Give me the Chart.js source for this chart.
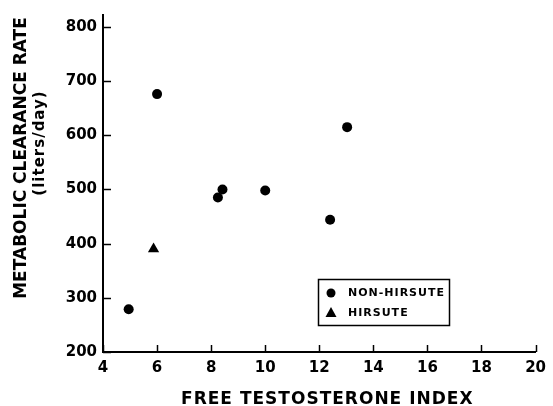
<!DOCTYPE html>
<html lang="en">
<head>
<meta charset="UTF-8">
<title>Metabolic clearance rate vs free testosterone index</title>
<script src="https://cdn.jsdelivr.net/npm/chart.js"></script>
<style>
  html, body { margin: 0; padding: 0; background: #fff; }
  #wrap { width: 553px; height: 406px; }
</style>
</head>
<body>
<div id="wrap"><canvas id="mcrChart" width="553" height="406"></canvas></div>
<script>
// values
const nonHirsuteFTI = [4.95, 6.0, 8.25, 8.42, 10.0, 12.4, 13.03];
const nonHirsuteMCR = [279, 676, 485, 500, 498, 444, 615];
const hirsuteFTI = [5.87];
const hirsuteMCR = [390];

const xTicks = [4, 6, 8, 10, 12, 14, 16, 18, 20];
const yTicks = [200, 300, 400, 500, 600, 700, 800];

const seriesNames = ['NON-HIRSUTE', 'HIRSUTE'];
const xTitle = 'FREE TESTOSTERONE INDEX';
const yTitle = 'METABOLIC CLEARANCE RATE';
const yUnits = '(liters/day)';

const FONT = '"DejaVu Sans", sans-serif';

// tick marks drawn inside the axes
const inwardTicks = {
    id: 'inwardTicks',
    afterDraw(chart) {
        const { ctx, chartArea, scales } = chart;
        ctx.save();
        ctx.strokeStyle = '#000';
        ctx.lineWidth = 1.5;
        xTicks.forEach(v => {
            const px = Math.round(scales.x.getPixelForValue(v)) + 0.5;
            ctx.beginPath();
            ctx.moveTo(px, chartArea.bottom);
            ctx.lineTo(px, chartArea.bottom - 7);
            ctx.stroke();
        });
        yTicks.forEach(v => {
            const py = Math.round(scales.y.getPixelForValue(v)) + 0.5;
            ctx.beginPath();
            ctx.moveTo(chartArea.left, py);
            ctx.lineTo(chartArea.left + 8, py);
            ctx.stroke();
        });
        ctx.restore();
    }
};

// axis titles
const axisTitles = {
    id: 'axisTitles',
    afterDraw(chart) {
        const { ctx, chartArea } = chart;
        ctx.save();
        ctx.fillStyle = '#000';
        ctx.textAlign = 'center';
        ctx.textBaseline = 'alphabetic';

        ctx.font = 'bold 17px ' + FONT;
        ctx.letterSpacing = '1px';
        ctx.fillText(xTitle, (chartArea.left + chartArea.right) / 2 + 8, 404);

        ctx.letterSpacing = '0px';
        ctx.translate(26, 158);
        ctx.rotate(-Math.PI / 2);
        ctx.fillText(yTitle, 0, 0);
        ctx.restore();

        ctx.save();
        ctx.fillStyle = '#000';
        ctx.textAlign = 'center';
        ctx.font = 'bold 15px ' + FONT;
        ctx.letterSpacing = '1px';
        ctx.translate(44, 143);
        ctx.rotate(-Math.PI / 2);
        ctx.fillText(yUnits, 0, 0);
        ctx.restore();
    }
};

// boxed legend inside the plot
const boxLegend = {
    id: 'boxLegend',
    afterDraw(chart) {
        const { ctx } = chart;
        ctx.save();
        ctx.strokeStyle = '#000';
        ctx.lineWidth = 1.5;
        ctx.strokeRect(318.5, 279.5, 131, 46);

        ctx.fillStyle = '#000';
        ctx.beginPath();
        ctx.arc(331, 293, 4.5, 0, Math.PI * 2);
        ctx.fill();

        ctx.beginPath();
        ctx.moveTo(331, 307);
        ctx.lineTo(336.5, 317);
        ctx.lineTo(325.5, 317);
        ctx.closePath();
        ctx.fill();

        ctx.font = 'bold 11px ' + FONT;
        ctx.letterSpacing = '1px';
        ctx.textAlign = 'left';
        ctx.textBaseline = 'middle';
        ctx.fillText(seriesNames[0], 348, 293);
        ctx.fillText(seriesNames[1], 348, 313);
        ctx.restore();
    }
};

const ctx = document.getElementById('mcrChart').getContext('2d');
const mcrChart = new Chart(ctx, {
    type: 'scatter',
    data: {
        datasets: [
            {
                label: seriesNames[0],
                data: nonHirsuteFTI.map((v, i) => ({ x: v, y: nonHirsuteMCR[i] })),
                pointStyle: 'circle',
                pointRadius: 5,
                backgroundColor: '#000',
                borderColor: '#000',
                borderWidth: 0
            },
            {
                label: seriesNames[1],
                data: hirsuteFTI.map((v, i) => ({ x: v, y: hirsuteMCR[i] })),
                pointStyle: 'triangle',
                pointRadius: 6.5,
                backgroundColor: '#000',
                borderColor: '#000',
                borderWidth: 0
            }
        ]
    },
    options: {
        responsive: false,
        animation: false,
        layout: { padding: { top: 13, right: 14, left: 0, bottom: 0 } },
        plugins: {
            legend: { display: false },
            tooltip: { enabled: false }
        },
        scales: {
            x: {
                type: 'linear',
                min: 4,
                max: 20,
                afterBuildTicks: s => { s.ticks = xTicks.map(v => ({ value: v })); },
                afterFit: s => { s.height = 54; },
                grid: { display: false, drawTicks: false },
                border: { display: true, color: '#000', width: 2 },
                ticks: {
                    color: '#000',
                    padding: 7,
                    maxRotation: 0,
                    font: { family: FONT, size: 15, weight: 'bold' }
                }
            },
            y: {
                type: 'linear',
                min: 200,
                max: 822,
                afterBuildTicks: s => { s.ticks = yTicks.map(v => ({ value: v })); },
                afterFit: s => { s.width = 103; },
                grid: { display: false, drawTicks: false },
                border: { display: true, color: '#000', width: 2 },
                ticks: {
                    color: '#000',
                    padding: 6,
                    font: { family: FONT, size: 15, weight: 'bold' }
                }
            }
        }
    },
    plugins: [inwardTicks, axisTitles, boxLegend]
});
</script>
</body>
</html>
